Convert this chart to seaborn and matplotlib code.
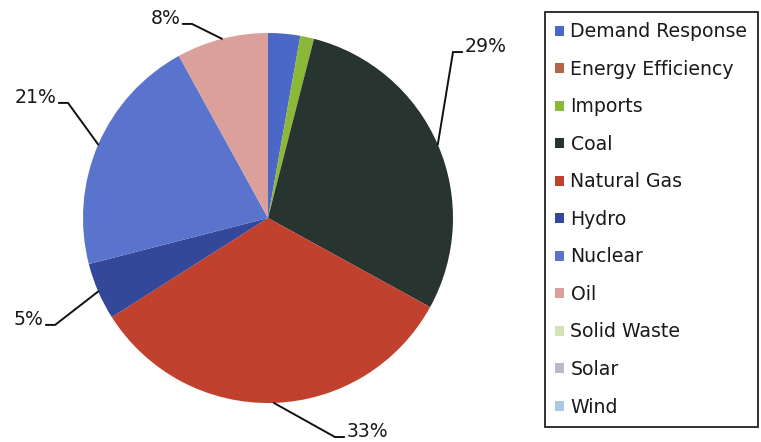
import numpy as np
import matplotlib
matplotlib.use("Agg")
import matplotlib.pyplot as plt
import seaborn as sns

# Generation mix by resource (percent of total)
categories = ["Demand Response", "Energy Efficiency", "Imports", "Coal",
              "Natural Gas", "Hydro", "Nuclear", "Oil", "Solid Waste",
              "Solar", "Wind"]
shares = [2.8, 0.0, 1.2, 29.0, 33.0, 5.0, 21.0, 8.0, 0.0, 0.0, 0.0]
slice_colors = ["#4B68C6", "#B5654A", "#8CB838", "#28342F", "#C0412E",
                "#34489A", "#5A74CE", "#DBA09C", "#D5E2B8", "#B9B9C9",
                "#A9C9E6"]

# Callout placement for labelled slices: elbow point (pie radius units)
# and direction of the short horizontal tick
callouts = {
    "Coal":        ((1.000, 0.897), 1),
    "Natural Gas": ((0.362, -1.184), 1),
    "Hydro":       ((-1.151, -0.578), -1),
    "Nuclear":     ((-1.081, 0.622), -1),
    "Oil":         ((-0.411, 1.049), -1),
}
tick_len = 0.05

sns.set_theme(style="white")
plt.rcParams["font.family"] = ["DejaVu Sans"]
palette = sns.color_palette(slice_colors)

W, H = 761, 442
R = 185.0
cx, cy = 268.0, 218.0
fig = plt.figure(figsize=(W / 100, H / 100), dpi=100)
ax = fig.add_axes([0, 0, 1, 1])

wedges, _ = ax.pie(shares, colors=palette, startangle=90, counterclock=False,
                   radius=1.0, wedgeprops=dict(linewidth=0))
ax.set_xlim(-cx / R, (W - cx) / R)
ax.set_ylim(-(H - cy) / R, cy / R)
ax.axis("off")

total = sum(shares)
for name, w, v in zip(categories, wedges, shares):
    if name not in callouts:
        continue
    mid = np.deg2rad((w.theta1 + w.theta2) / 2)
    ex, ey = np.cos(mid), np.sin(mid)
    (bx, by), side = callouts[name]
    hx = bx + side * tick_len
    ax.plot([ex, bx, hx], [ey, by, by], color="#111111", lw=1.4,
            solid_joinstyle="miter", zorder=3)
    ax.text(hx + side * 0.012, by, f"{v / total * 100:.0f}%",
            ha="left" if side > 0 else "right", va="baseline",
            fontsize=13.6, color="#1a1a1a")

leg = ax.legend(wedges, categories, loc="upper left",
                bbox_to_anchor=(545 / W, 1 - 12 / H),
                bbox_transform=fig.transFigure, fontsize=13.6,
                handlelength=0.45, handleheight=0.45, handletextpad=0.35,
                labelspacing=0.98, borderpad=0.55, borderaxespad=0,
                fancybox=False, framealpha=1, edgecolor="#222222")
leg.get_frame().set_linewidth(1.3)
for t in leg.get_texts():
    t.set_color("#1a1a1a")

fig.savefig("out.png", dpi=100)
